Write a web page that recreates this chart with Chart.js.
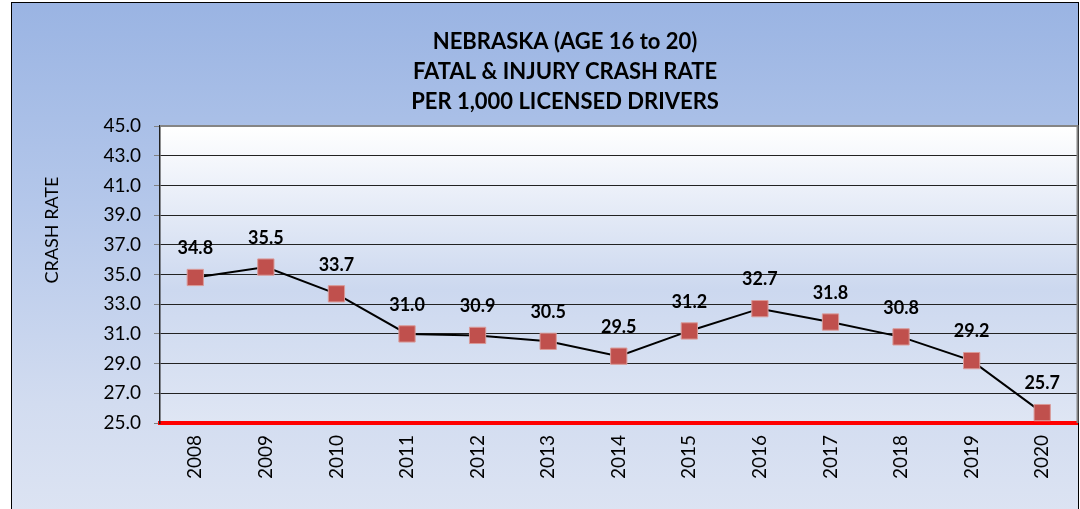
<!DOCTYPE html>
<html>
<head>
<meta charset="utf-8">
<script src="https://cdn.jsdelivr.net/npm/chart.js@4.4.1/dist/chart.umd.min.js"></script>
<style>
  html, body { margin: 0; padding: 0; overflow: hidden; background: #ffffff; width: 1080px; height: 509px; }
  #frame {
    position: absolute; left: 11px; top: 2px; width: 1066px; height: 530px;
    border: 1px solid #000;
    background: linear-gradient(to bottom, #9ab4e3 0px, #b4c7ea 200px, #d2dcf0 400px, #dde4f3 520px);
  }
  #wrap { position: absolute; left: 0; top: 0; width: 1090px; height: 509px; }
</style>
</head>
<body>
<div id="frame"></div>
<div id="wrap"><canvas id="c" width="1090" height="509"></canvas></div>
<script>
const years = ["2008","2009","2010","2011","2012","2013","2014","2015","2016","2017","2018","2019","2020"];
const crashRate = [34.8, 35.5, 33.7, 31.0, 30.9, 30.5, 29.5, 31.2, 32.7, 31.8, 30.8, 29.2, 25.7];
const titleLines = ["NEBRASKA (AGE 16 to 20)", "FATAL & INJURY CRASH RATE", "PER 1,000 LICENSED DRIVERS"];
const yAxisTitle = "CRASH RATE";
const yMin = 25.0, yMax = 45.0, yStep = 2.0;

const FONT = "Lato, 'Liberation Sans', sans-serif";

const decorPlugin = {
  id: 'decor',
  beforeDraw(chart) {
    const {ctx, chartArea: a} = chart;
    ctx.save();
    const g = ctx.createLinearGradient(0, a.top, 0, a.bottom);
    g.addColorStop(0, '#ffffff');
    g.addColorStop(0.55, '#ccd8ef');
    g.addColorStop(1, '#dfe6f4');
    ctx.fillStyle = g;
    ctx.fillRect(a.left, a.top, a.right - a.left, a.bottom - a.top);
    ctx.restore();
  },
  beforeDatasetsDraw(chart) {
    const {ctx, chartArea: a} = chart;
    ctx.save();
    ctx.strokeStyle = '#858585';
    ctx.lineWidth = 2;
    ctx.beginPath();
    ctx.moveTo(a.left, a.top);
    ctx.lineTo(a.right, a.top);
    ctx.lineTo(a.right, a.bottom);
    ctx.stroke();
    ctx.restore();
  },
  afterDatasetsDraw(chart) {
    const {ctx} = chart;
    const meta = chart.getDatasetMeta(0);
    ctx.save();
    ctx.fillStyle = '#000';
    ctx.font = "bold 18px " + FONT;
    ctx.textAlign = 'center';
    ctx.textBaseline = 'middle';
    meta.data.forEach((pt, i) => {
      ctx.fillText(crashRate[i].toFixed(1), pt.x, pt.y - 29);
    });
    // title
    ctx.font = "bold 22px " + FONT;
    titleLines.forEach((t, i) => ctx.fillText(t, 565, 42 + i * 30));
    // y axis title
    ctx.font = "18px " + FONT;
    ctx.translate(52, 230);
    ctx.rotate(-Math.PI / 2);
    ctx.fillText(yAxisTitle, 0, 0);
    ctx.restore();
  }
};

new Chart(document.getElementById('c'), {
  type: 'line',
  data: {
    labels: years,
    datasets: [{
      data: crashRate,
      borderColor: '#000',
      borderWidth: 2,
      pointStyle: 'rect',
      pointRadius: 11.5,
      pointHoverRadius: 11.5,
      pointBackgroundColor: '#c0504d',
      pointBorderColor: '#d99a98',
      pointBorderWidth: 1,
      tension: 0,
      clip: false
    }]
  },
  options: {
    responsive: false,
    animation: false,
    events: [],
    layout: { padding: { left: 0, right: 0, top: 126, bottom: 0 } },
    plugins: { legend: { display: false }, title: { display: false }, tooltip: { enabled: false } },
    scales: {
      x: {
        offset: true,
        grid: { display: false, drawTicks: false },
        border: { display: true, color: '#ff0000', width: 4 },
        ticks: {
          color: '#000', font: { family: FONT, size: 19 },
          maxRotation: 90, minRotation: 90, padding: 12, autoSkip: false
        },
        afterFit(s) { s.height = 86; s.paddingLeft = 0; s.paddingRight = 0; }
      },
      y: {
        min: yMin, max: yMax,
        grid: { color: '#222', lineWidth: 1, tickColor: '#808080', tickLength: 6 },
        border: { display: true, color: '#222', width: 1.5 },
        ticks: {
          stepSize: yStep, color: '#000', font: { family: FONT, size: 19 }, padding: 13,
          callback: v => Number(v).toFixed(1)
        },
        afterFit(s) { s.width = 160; s.paddingTop = 0; s.paddingBottom = 0; }
      }
    }
  },
  plugins: [decorPlugin]
});
</script>
</body>
</html>
